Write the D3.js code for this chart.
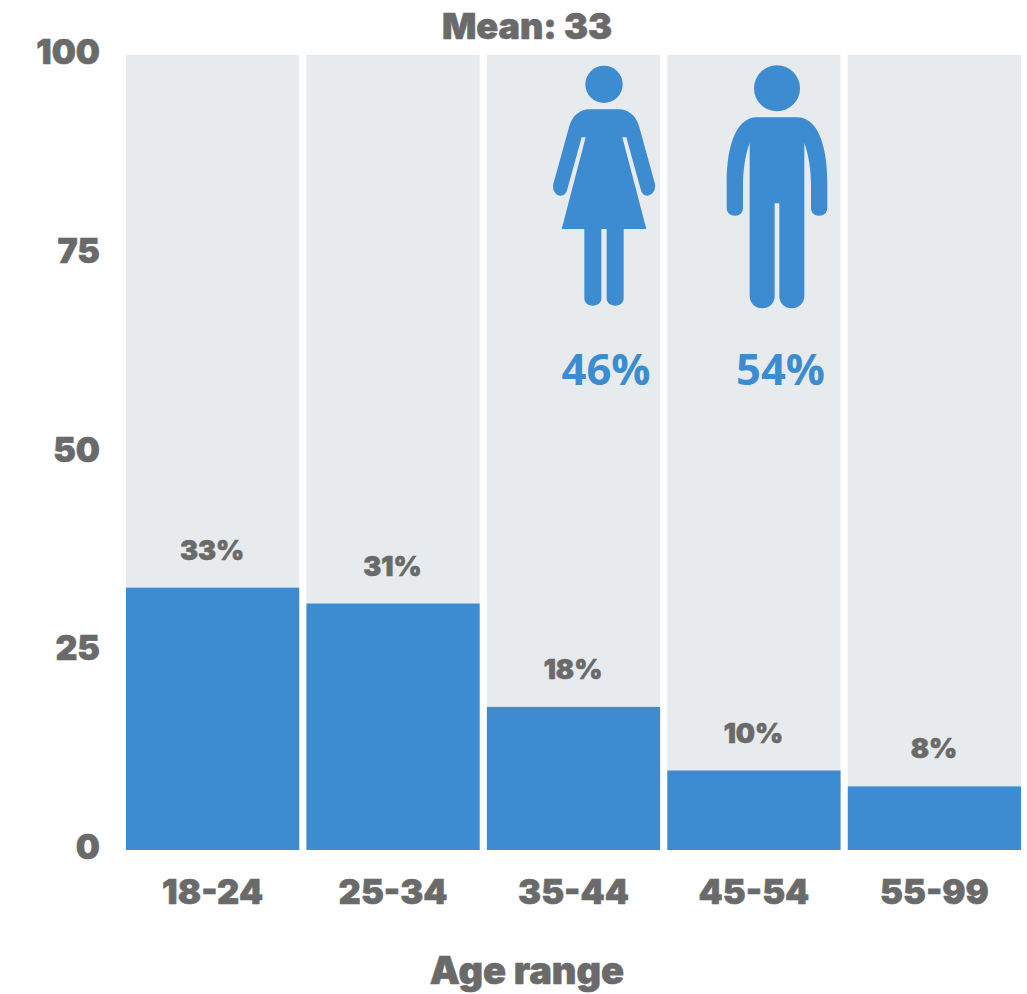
<!DOCTYPE html>
<html>
<head>
<meta charset="utf-8">
<script src="https://cdn.jsdelivr.net/npm/d3@7"></script>
<style>
  html, body { margin: 0; padding: 0; background: #fff; }
  svg { display: block; }
  .lab { font-family: Inter, sans-serif; font-weight: 900; fill: #6a6a6a; stroke: #6a6a6a; stroke-width: 0.6px; paint-order: stroke; }
  .share { font-family: "Open Sans", sans-serif; font-weight: 700; fill: #3d8bd0; }
</style>
</head>
<body>
<svg id="chart" width="1027" height="994"></svg>
<script>
const ageRanges = ["18-24", "25-34", "35-44", "45-54", "55-99"];
const sharePct = [33, 31, 18, 10, 8];
const yTicks = [0, 25, 50, 75, 100];
const genderShares = [46, 54];
const meanAge = 33;

const BLUE = "#3d8bd0", TRACK = "#e8ebee";

const svg = d3.select("#chart");
const x = d3.scaleBand().domain(ageRanges).range([126, 1021]).paddingInner(0.04);
const y = d3.scaleLinear().domain([0, 100]).range([850, 55]);

// Full-height tracks behind the bars
svg.selectAll("rect.track").data(ageRanges).join("rect")
  .attr("class", "track")
  .attr("x", d => x(d)).attr("width", x.bandwidth())
  .attr("y", y(100)).attr("height", y(0) - y(100))
  .attr("fill", TRACK);

svg.selectAll("rect.bar").data(sharePct).join("rect")
  .attr("class", "bar")
  .attr("x", (d, i) => x(ageRanges[i])).attr("width", x.bandwidth())
  .attr("y", d => y(d)).attr("height", d => y(0) - y(d))
  .attr("fill", BLUE);

svg.selectAll("text.val").data(sharePct).join("text")
  .attr("class", "lab val")
  .attr("x", (d, i) => x(ageRanges[i]) + x.bandwidth() / 2 - 0.5)
  .attr("y", d => y(d) - 28)
  .attr("text-anchor", "middle")
  .attr("font-size", 27)
  .text(d => d + "%");

// Axes, with their lines and tick marks removed
const yAxis = svg.append("g").attr("transform", "translate(100,0)")
  .call(d3.axisLeft(y).tickValues(yTicks).tickSize(0).tickPadding(0));
yAxis.select(".domain").remove();
yAxis.selectAll("text").attr("class", "lab").attr("font-size", 34).attr("dy", "0.25em")
  .style("font-family", null);

const xAxis = svg.append("g").attr("transform", "translate(0,850)")
  .call(d3.axisBottom(x).tickSize(0).tickPadding(0));
xAxis.select(".domain").remove();
xAxis.selectAll("text").attr("class", "lab").attr("font-size", 34.5).attr("y", 29).attr("dy", "0.73em");

svg.append("text").attr("class", "lab")
  .attr("x", 527).attr("y", 39).attr("text-anchor", "middle").attr("font-size", 36)
  .text("Mean: " + meanAge);

svg.append("text").attr("class", "lab")
  .attr("x", 527).attr("y", 984).attr("text-anchor", "middle").attr("font-size", 38)
  .text("Age range");

// Pictograms, outlined on a shared 900×1050 artboard
const icons = svg.append("g").attr("transform", "translate(540,50) scale(0.33333)").attr("fill", BLUE);

icons.append("circle").attr("cx", 192).attr("cy", 103).attr("r", 56);
icons.append("path").attr("d",
  "M150 178 H235 C268 178 290 200 298 232 L344 398 C350 420 336 436 322 437 C312 437 305 430 302 418 " +
  "L259 262 H247 L319 537 H251 V745 C251 759 240 767 226 767 C211 767 200 759 200 745 V537 H184 V745 " +
  "C184 759 173 767 158 767 C144 767 133 759 133 745 V537 H65 L137 262 H125 L82 418 C79 430 72 437 61 437 " +
  "C47 436 34 420 41 398 L87 232 C95 200 117 178 150 178 Z");

icons.append("circle").attr("cx", 711).attr("cy", 115).attr("r", 69);
icons.append("path").attr("d",
  "M650 202 H772 C830 202 862 280 862 400 V473 C862 488 851 497 837 497 C823 497 813 488 813 473 " +
  "V420 C814 370 808 320 793 278 V738 C793 760 776 775 755 775 C734 775 718 760 718 738 V460 H704 V738 " +
  "C704 760 688 775 667 775 C646 775 629 760 629 738 V278 C614 320 608 370 609 420 V473 C609 488 599 497 585 497 " +
  "C571 497 560 488 560 473 V400 C560 280 592 202 650 202 Z");

svg.selectAll("text.share").data(genderShares).join("text")
  .attr("class", "share")
  .attr("x", (d, i) => i === 0 ? 606 : 780.5)
  .attr("y", 385)
  .attr("text-anchor", "middle")
  .attr("font-size", 43.5)
  .text(d => d + "%");
</script>
</body>
</html>
